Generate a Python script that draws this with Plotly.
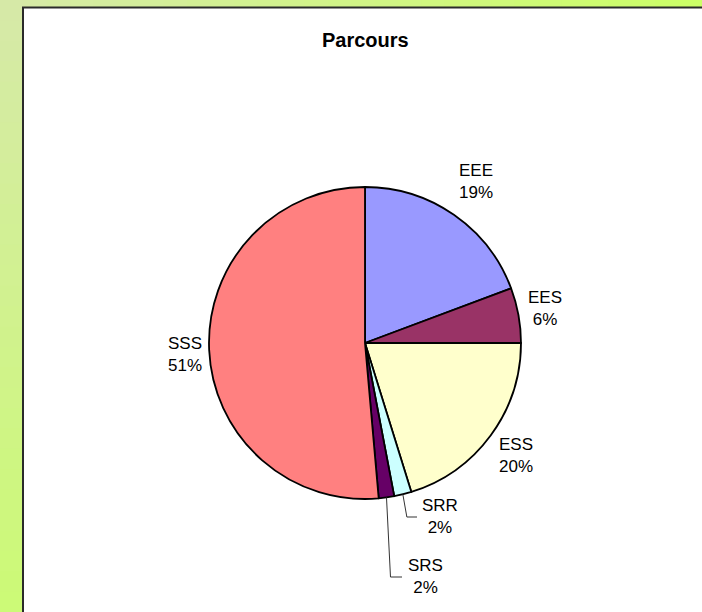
import math
import plotly.graph_objects as go

# ---- data ----
labels = ["EEE", "EES", "ESS", "SRR", "SRS", "SSS"]
values = [19.3, 5.7, 20.2, 1.8, 1.6, 51.4]
colors = ["#9999ff", "#993366", "#ffffcc", "#ccffff", "#660066", "#ff8080"]
title_text = "Parcours"

# ---- layout constants (pixels) ----
W, H = 702, 612
CX, CY, R = 365, 343, 156
# label block centers (pixels)
label_pos = [(476, 181), (545, 308), (516, 455), (440, 516), (425, 576), (185, 354)]
leader_for = {"SRR", "SRS"}

def px(x):
    return x / W

def py(y):
    return 1 - y / H

fig = go.Figure()
fig.add_trace(go.Pie(
    labels=labels, values=values, sort=False, direction="clockwise", rotation=0,
    marker=dict(colors=colors, line=dict(color="black", width=1.8)),
    textinfo="none", hoverinfo="label+percent", showlegend=False,
    domain=dict(x=[px(CX - R), px(CX + R)], y=[py(CY + R), py(CY - R)]),
))

shapes = []
# gradient background strips (left and top)
def lerp(c1, c2, t):
    return "rgb(%d,%d,%d)" % tuple(round(a + (b - a) * t) for a, b in zip(c1, c2))

c_tl = (214, 233, 168)
c_bl = (204, 250, 118)
c_tr = (204, 255, 102)
N = 30
for i in range(N):
    y0, y1 = H * i / N, H * (i + 1) / N + 2
    shapes.append(dict(type="rect", xref="paper", yref="paper", x0=0, x1=px(24),
                       y0=py(y1), y1=py(y0), fillcolor=lerp(c_tl, c_bl, (i + 0.5) / N),
                       line=dict(width=0), layer="below"))
    x0, x1 = W * i / N, W * (i + 1) / N + 2
    shapes.append(dict(type="rect", xref="paper", yref="paper", x0=px(x0), x1=px(x1),
                       y0=py(8), y1=1, fillcolor=lerp(c_tl, c_tr, (i + 0.5) / N),
                       line=dict(width=0), layer="below"))
# white chart area with dark border
shapes.append(dict(type="rect", xref="paper", yref="paper", x0=px(23), x1=px(712),
                   y0=py(622), y1=py(7.5), fillcolor="white",
                   line=dict(color="#2a2a2a", width=2), layer="below"))

total = sum(values)
annotations = []
annotations.append(dict(text="<b>%s</b>" % title_text, x=px(365), y=py(40), xref="paper", yref="paper",
                        showarrow=False, xanchor="center", yanchor="middle",
                        font=dict(family="Liberation Sans, Arial", size=20, color="black")))
cum = 0.0
for lab, v, (lx, ly) in zip(labels, values, label_pos):
    pct = round(v / total * 100)
    annotations.append(dict(text="%s<br>%d%%" % (lab, pct), x=px(lx), y=py(ly), xref="paper", yref="paper",
                            showarrow=False, xanchor="center", yanchor="middle",
                            font=dict(family="Liberation Sans, Arial", size=17, color="black")))
    mid = (cum + v / 2) / total * 2 * math.pi
    cum += v
    if lab in leader_for:
        sx = CX + R * math.sin(mid)
        sy = CY - R * math.cos(mid)
        ey = ly + 1
        ex = lx - 23
        shapes.append(dict(type="line", xref="paper", yref="paper", x0=px(sx), y0=py(sy),
                           x1=px(sx + 4), y1=py(ey), line=dict(color="#333", width=1)))
        shapes.append(dict(type="line", xref="paper", yref="paper", x0=px(sx + 4), y0=py(ey),
                           x1=px(ex), y1=py(ey), line=dict(color="#333", width=1)))

fig.update_layout(width=W, height=H, margin=dict(l=0, r=0, t=0, b=0),
                  paper_bgcolor="white", plot_bgcolor="white",
                  shapes=shapes, annotations=annotations)
fig.write_html("out.html", config={"displayModeBar": False},
               post_script="document.body.style.margin='0';document.body.style.overflow='hidden';")
